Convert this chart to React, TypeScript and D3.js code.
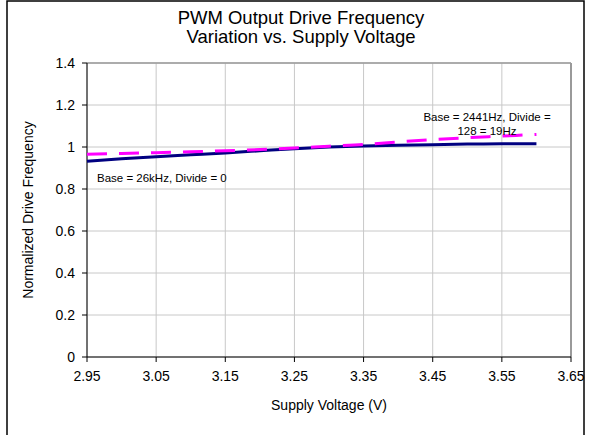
import React from "react";
import * as d3 from "d3";

const voltages = [2.95, 3.0, 3.05, 3.1, 3.15, 3.2, 3.25, 3.3, 3.35, 3.4, 3.45, 3.5, 3.55, 3.6];
const base26k = [0.932, 0.944, 0.954, 0.963, 0.972, 0.982, 0.992, 1.0, 1.005, 1.008, 1.011, 1.014, 1.016, 1.016];
const base2441 = [0.965, 0.969, 0.973, 0.977, 0.982, 0.988, 0.995, 1.004, 1.012, 1.024, 1.035, 1.044, 1.052, 1.06];
const xTicks = [2.95, 3.05, 3.15, 3.25, 3.35, 3.45, 3.55, 3.65];
const yTicks = [0, 0.2, 0.4, 0.6, 0.8, 1, 1.2, 1.4];

const FONT = "Liberation Sans, Arial, sans-serif";

export default function App() {
  const W = 590, H = 435;
  const L = 87, R = 571, T = 63, B = 357;
  const x = d3.scaleLinear().domain([2.95, 3.65]).range([L, R]);
  const y = d3.scaleLinear().domain([0, 1.4]).range([B, T]);
  const line = d3.line<number>().x((_, i) => x(voltages[i])).y((d) => y(d)).curve(d3.curveMonotoneX);
  const fmtY = (v: number) => (v === 0 || v === 1 ? String(v) : v.toFixed(1));
  return (
    <svg width={W} height={H} style={{ position: "absolute", left: 0, top: 0 }} fontFamily={FONT}>
      <rect x={0} y={0} width={W} height={H} fill="#fff" />
      <rect x={7} y={1} width={577} height={460} fill="none" stroke="#000" strokeWidth={1.5} />
      {yTicks.map((t) => (
        <line key={"gy" + t} x1={L} x2={R} y1={y(t)} y2={y(t)} stroke="#c8c8c8" strokeWidth={1} />
      ))}
      {xTicks.map((t) => (
        <line key={"gx" + t} x1={x(t)} x2={x(t)} y1={T} y2={B} stroke="#c8c8c8" strokeWidth={1} />
      ))}
      <line x1={L} x2={R} y1={T} y2={T} stroke="#9a9a9a" strokeWidth={1.5} />
      <line x1={R} x2={R} y1={T} y2={B} stroke="#9a9a9a" strokeWidth={2} />
      <line x1={L} x2={L} y1={T} y2={B} stroke="#000" strokeWidth={1} />
      <line x1={L} x2={R} y1={B} y2={B} stroke="#000" strokeWidth={1} />
      {yTicks.map((t) => (
        <g key={"ty" + t}>
          <line x1={L - 5} x2={L} y1={y(t)} y2={y(t)} stroke="#000" />
          <text x={L - 12} y={y(t) + 5} fontSize={14} textAnchor="end" fill="#000">{fmtY(t)}</text>
        </g>
      ))}
      {xTicks.map((t) => (
        <g key={"tx" + t}>
          <line x1={x(t)} x2={x(t)} y1={B} y2={B + 5} stroke="#000" />
          <text x={x(t)} y={B + 24} fontSize={14} textAnchor="middle" fill="#000">{t.toFixed(2)}</text>
        </g>
      ))}
      <path d={line(base26k) || ""} fill="none" stroke="#000080" strokeWidth={3} />
      <path d={line(base2441) || ""} fill="none" stroke="#ff00ff" strokeWidth={3} strokeDasharray="20 12" />
      <text x={97} y={182} fontSize={11.5} fill="#000">Base = 26kHz, Divide = 0</text>
      <text x={487} y={121} fontSize={11.5} textAnchor="middle" fill="#000">Base = 2441Hz, Divide =</text>
      <text x={487} y={135} fontSize={11.5} textAnchor="middle" fill="#000">128 = 19Hz</text>
      <text x={301} y={24} fontSize={18.5} textAnchor="middle" fill="#000">PWM Output Drive Frequency</text>
      <text x={301} y={43} fontSize={18.5} textAnchor="middle" fill="#000">Variation vs. Supply Voltage</text>
      <text x={(L + R) / 2} y={410} fontSize={14} textAnchor="middle" fill="#000">Supply Voltage (V)</text>
      <text transform={`translate(33, ${(T + B) / 2}) rotate(-90)`} fontSize={14} textAnchor="middle" fill="#000">Normalized Drive Frequency</text>
    </svg>
  );
}
